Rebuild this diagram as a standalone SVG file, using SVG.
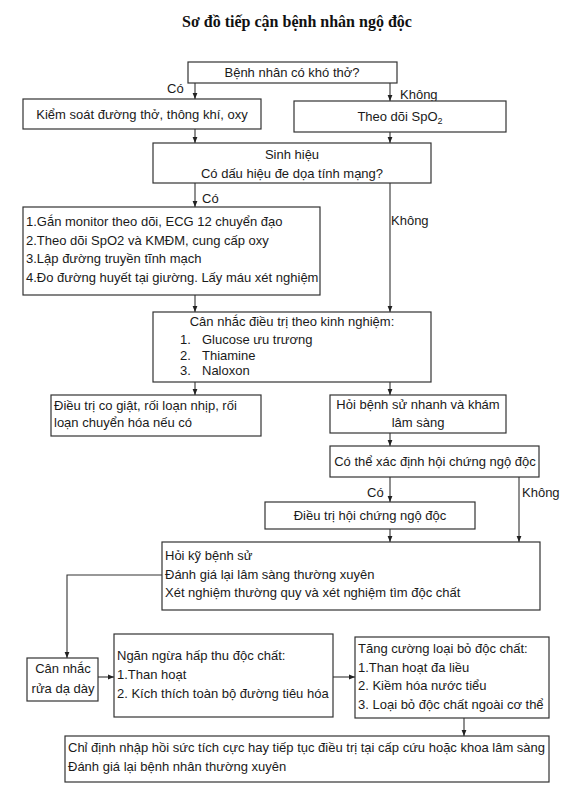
<svg xmlns="http://www.w3.org/2000/svg" width="580" height="806" viewBox="0 0 580 806">
<defs>
<marker id="ah" viewBox="0 0 6 6" refX="6" refY="3" markerWidth="6" markerHeight="6" markerUnits="userSpaceOnUse" orient="auto">
<path d="M0,0.6 L6,3 L0,5.4 Z" fill="#222"/>
</marker>
<style>
.bx{fill:#fff;stroke:#333;stroke-width:1.2}
.t{font-family:"Liberation Sans",Arial,sans-serif;font-size:13px;fill:#1a1a1a}
.c{text-anchor:middle}
.ln{fill:none;stroke:#333;stroke-width:1.1}
.ar{fill:none;stroke:#333;stroke-width:1.1;marker-end:url(#ah)}
.title{font-family:"Liberation Serif","Times New Roman",serif;font-size:16px;font-weight:bold;text-anchor:middle;fill:#111}
</style>
</defs>
<rect width="580" height="806" fill="#fff"/>
<text class="title" x="297" y="27">Sơ đồ tiếp cận bệnh nhân ngộ độc</text>

<g id="connectors">
<path class="ar" d="M195,83 V99"/>
<path class="ar" d="M390,83 V101"/>
<path class="ar" d="M195,129 V143"/>
<path class="ar" d="M390,132 V143"/>
<path class="ar" d="M195,183 V207"/>
<path class="ar" d="M390,183 V312"/>
<path class="ar" d="M195,295 V312"/>
<path class="ar" d="M195,382 V395"/>
<path class="ar" d="M390,382 V395"/>
<path class="ar" d="M390,433 V446"/>
<path class="ar" d="M390,477 V502"/>
<path class="ar" d="M519,477 V542"/>
<path class="ar" d="M390,529 V542"/>
<path class="ar" d="M162,575 H67 V658"/>
<path class="ar" d="M98,677 H114"/>
<path class="ar" d="M333,677 H355"/>
<path class="ar" d="M464,718 V736"/>
<text class="t" x="167" y="93">Có</text>
<text class="t" x="400" y="99">Không</text>
<text class="t" x="202" y="203">Có</text>
<text class="t" x="391" y="225">Không</text>
<text class="t" x="367" y="497">Có</text>
<text class="t" x="522" y="497">Không</text>
</g>

<g id="n1">
<rect class="bx" x="188" y="62" width="209" height="21"/>
<text class="t c" x="292" y="77">Bệnh nhân có khó thở?</text>
</g>
<g id="n2">
<rect class="bx" x="23" y="99" width="238" height="30"/>
<text class="t c" x="142" y="119">Kiểm soát đường thở, thông khí, oxy</text>
</g>
<g id="n3">
<rect class="bx" x="294" y="101" width="212" height="31"/>
<text class="t c" x="400" y="121">Theo dõi SpO<tspan font-size="9" dy="3">2</tspan></text>
</g>
<g id="n4">
<rect class="bx" x="153" y="143" width="278" height="40"/>
<text class="t c" x="292" y="159">Sinh hiệu</text>
<text class="t c" x="292" y="178">Có dấu hiệu đe dọa tính mạng?</text>
</g>
<g id="n5">
<rect class="bx" x="23" y="207" width="297" height="88"/>
<text class="t" x="26" y="226">1.Gắn monitor theo dõi, ECG 12 chuyển đạo</text>
<text class="t" x="26" y="245">2.Theo dõi SpO2 và KMĐM, cung cấp oxy</text>
<text class="t" x="26" y="263">3.Lập đường truyền tĩnh mạch</text>
<text class="t" x="26" y="282">4.Đo đường huyết tại giường. Lấy máu xét nghiệm</text>
</g>
<g id="n6">
<rect class="bx" x="153" y="312" width="278" height="70"/>
<text class="t c" x="292" y="326">Cân nhắc điều trị theo kinh nghiệm:</text>
<text class="t" x="180" y="344">1.</text><text class="t" x="202" y="344">Glucose ưu trương</text>
<text class="t" x="180" y="360">2.</text><text class="t" x="202" y="360">Thiamine</text>
<text class="t" x="180" y="375">3.</text><text class="t" x="202" y="375">Naloxon</text>
</g>
<g id="n7">
<rect class="bx" x="51" y="395" width="210" height="41"/>
<text class="t" x="54" y="410">Điều trị co giật, rối loạn nhịp, rối</text>
<text class="t" x="54" y="427">loạn chuyển hóa nếu có</text>
</g>
<g id="n8">
<rect class="bx" x="330" y="395" width="176" height="38"/>
<text class="t c" x="418" y="409">Hỏi bệnh sử nhanh và khám</text>
<text class="t c" x="418" y="427">lâm sàng</text>
</g>
<g id="n9">
<rect class="bx" x="330" y="446" width="209" height="31"/>
<text class="t c" x="435" y="466">Có thể xác định hội chứng ngộ độc</text>
</g>
<g id="n10">
<rect class="bx" x="265" y="502" width="210" height="27"/>
<text class="t c" x="370" y="520">Điều trị hội chứng ngộ độc</text>
</g>
<g id="n11">
<rect class="bx" x="162" y="542" width="378" height="68"/>
<text class="t" x="165" y="560">Hỏi kỹ bệnh sử</text>
<text class="t" x="165" y="579">Đánh giá lại lâm sàng thường xuyên</text>
<text class="t" x="165" y="597">Xét nghiệm thường quy và xét nghiệm tìm độc chất</text>
</g>
<g id="n12">
<rect class="bx" x="27" y="658" width="71" height="43"/>
<text class="t c" x="63" y="673">Cân nhắc</text>
<text class="t c" x="63" y="693">rửa dạ dày</text>
</g>
<g id="n13">
<rect class="bx" x="114" y="634" width="219" height="83"/>
<text class="t" x="117" y="660">Ngăn ngừa hấp thu độc chất:</text>
<text class="t" x="117" y="679">1.Than hoạt</text>
<text class="t" x="117" y="698">2. Kích thích toàn bộ đường tiêu hóa</text>
</g>
<g id="n14">
<rect class="bx" x="355" y="637" width="194" height="81"/>
<text class="t" x="358" y="653">Tăng cường loại bỏ độc chất:</text>
<text class="t" x="358" y="672">1.Than hoạt đa liều</text>
<text class="t" x="358" y="690">2. Kiềm hóa nước tiểu</text>
<text class="t" x="358" y="709">3. Loại bỏ độc chất ngoài cơ thể</text>
</g>
<g id="n15">
<rect class="bx" x="65" y="736" width="484" height="46"/>
<text class="t" x="68" y="752">Chỉ định nhập hồi sức tích cực hay tiếp tục điều trị tại cấp cứu hoặc khoa lâm sàng</text>
<text class="t" x="68" y="771">Đánh giá lại bệnh nhân thường xuyên</text>
</g>
</svg>
